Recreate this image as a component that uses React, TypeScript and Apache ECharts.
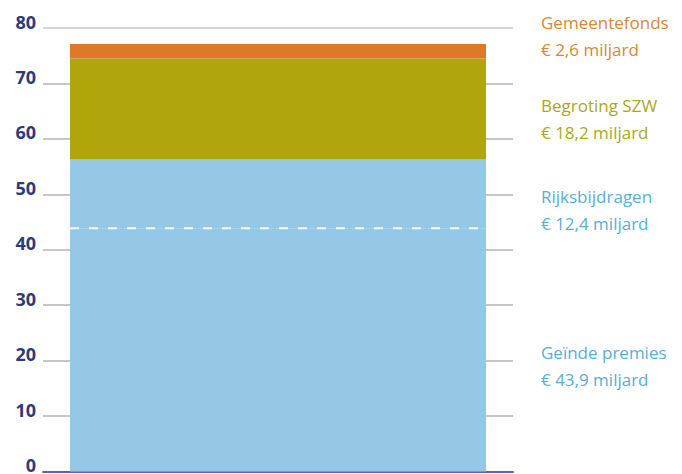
import React, { useEffect, useRef } from "react";
import * as echarts from "echarts";

const categories = ["Totaal"];
const premies = [43.9];
const rijksbijdragen = [12.4];
const begrotingSZW = [18.2];
const gemeentefonds = [2.6];
const seriesNames = ["Geïnde premies", "Rijksbijdragen", "Begroting SZW", "Gemeentefonds"];
const amountLabels = ["€ 43,9 miljard", "€ 12,4 miljard", "€ 18,2 miljard", "€ 2,6 miljard"];
const yMin = 0;
const yMax = 80;
const yInterval = 10;

const BAR_WIDTH = 416;
const FONT = "'Open Sans', 'DejaVu Sans', sans-serif";

export default function App() {
  const ref = useRef<HTMLDivElement>(null);
  useEffect(() => {
    if (!ref.current) return;
    const chart = echarts.init(ref.current, null, { renderer: "svg" });
    const gridColors = ["#b3b3b3", "#b3b3b3", "#b3b3b3", "#b3b3b3", "#b3b3b3", "#b3b3b3", "#b3b3b3", "#b3b3b3", "#c3c6e6"];
    const mkLabel = (idx: number, color: string, offsetY: number) => ({
      show: true,
      position: "right",
      distance: 55,
      offset: [0, offsetY],
      color,
      fontFamily: FONT,
      fontSize: 17,
      lineHeight: 27,
      align: "left",
      formatter: () => seriesNames[idx] + "\n" + amountLabels[idx],
    });
    const segments = [
      { data: premies, color: "#95c8e6", text: "#5aaed4", off: 16 },
      { data: rijksbijdragen, color: "#95c8e6", text: "#5aaed4", off: 16 },
      { data: begrotingSZW, color: "#b0a60c", text: "#aaa81a", off: 10 },
      { data: gemeentefonds, color: "#dc7a28", text: "#d98735", off: -15 },
    ];
    chart.setOption({
      animation: false,
      backgroundColor: "#ffffff",
      grid: { left: 43, right: 169, top: 28, bottom: 2 },
      xAxis: {
        type: "category",
        data: categories,
        axisLine: { show: true, lineStyle: { color: "#5a62b8", width: 2 } },
        axisTick: { show: false },
        axisLabel: { show: false },
        splitLine: { show: false },
      },
      yAxis: {
        type: "value",
        min: yMin,
        max: yMax,
        interval: yInterval,
        axisLine: { show: false },
        axisTick: { show: false },
        axisLabel: {
          color: "#2d3b7c",
          fontFamily: FONT,
          fontWeight: "bold",
          fontSize: 18,
          margin: 7,
          lineHeight: 13,
          verticalAlign: "bottom",
        },
        splitLine: { show: true, lineStyle: { color: gridColors, width: 1.5 } },
      },
      series: [
        ...segments.map((s, i) => ({
          type: "bar",
          name: seriesNames[i],
          stack: "total",
          barWidth: BAR_WIDTH,
          data: s.data,
          itemStyle: { color: s.color },
          label: mkLabel(i, s.text, s.off),
          z: 2,
        })),
        {
          type: "custom",
          data: [[0, premies[0]]],
          z: 5,
          renderItem: (params: any, api: any) => {
            const p = api.coord([api.value(0), api.value(1)]);
            return {
              type: "line",
              shape: { x1: p[0] - BAR_WIDTH / 2, y1: p[1], x2: p[0] + BAR_WIDTH / 2, y2: p[1] },
              style: { stroke: "#ffffff", lineWidth: 2, lineDash: [9, 10], opacity: 0.9 },
            };
          },
        },
      ],
    });
    return () => chart.dispose();
  }, []);
  return (
    <div
      ref={ref}
      style={{ position: "fixed", left: 0, top: 0, width: 682, height: 474, background: "#fff" }}
    />
  );
}
